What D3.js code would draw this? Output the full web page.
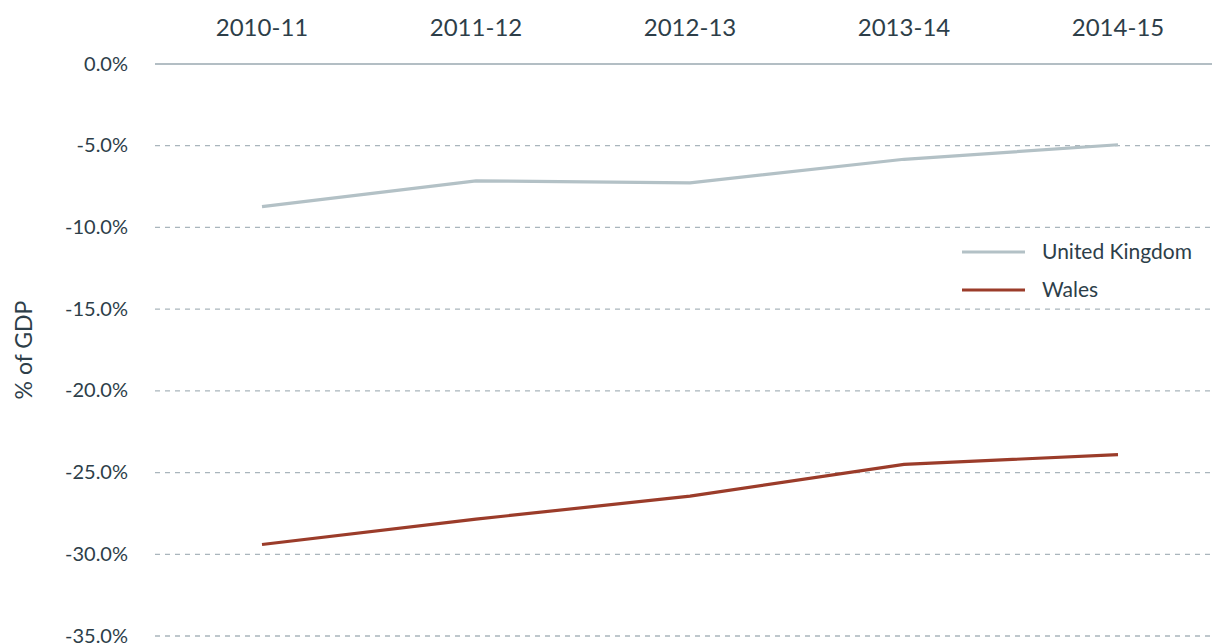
<!DOCTYPE html>
<html>
<head>
<meta charset="utf-8">
<script src="https://cdn.jsdelivr.net/npm/d3@7"></script>
<style>
  body { margin: 0; background: #fff; }
  svg text { font-family: Lato, "Open Sans", sans-serif; fill: #2d3e49; }
</style>
</head>
<body>
<div id="chart"></div>
<script>
// dados
const categorias = ['2010-11', '2011-12', '2012-13', '2013-14', '2014-15'];
const reinoUnido = [-8.73, -7.15, -7.27, -5.83, -4.94];
const pais = [-29.4, -27.85, -26.44, -24.5, -23.9];
const ticksY = [0, -5, -10, -15, -20, -25, -30, -35];
const series = [
  { nome: 'United Kingdom', valores: reinoUnido, cor: '#b3c1c6' },
  { nome: 'Wales', valores: pais, cor: '#9b3c2a' }
];

const W = 1212, H = 644;
const margin = { left: 155, right: -13, top: 64, bottom: 8 };

const svg = d3.select('#chart').append('svg')
  .attr('width', W).attr('height', H);

const x = d3.scaleBand()
  .domain(categorias)
  .range([margin.left, W - margin.right]);

const y = d3.scaleLinear()
  .domain([0, -35])
  .range([margin.top, H - margin.bottom]);

// grelha
svg.append('g').selectAll('line')
  .data(ticksY)
  .join('line')
  .attr('x1', margin.left).attr('x2', W)
  .attr('y1', d => y(d)).attr('y2', d => y(d))
  .attr('stroke', d => d === 0 ? '#9aa8b0' : '#a9b5bc')
  .attr('stroke-width', 1.3)
  .attr('stroke-dasharray', d => d === 0 ? null : '5,5');

// eixo Y (rótulos) - hífen normal em vez do sinal de menos
const fmt = d => d3.format('.1f')(d).replace('\u2212', '-') + '%';
const eixoY = svg.append('g')
  .attr('transform', `translate(${margin.left - 27},0)`)
  .call(d3.axisLeft(y).tickValues(ticksY).tickSize(0).tickFormat(fmt));
eixoY.select('.domain').remove();
eixoY.selectAll('text')
  .attr('x', 0)
  .attr('dy', '0.3em')
  .style('font-size', '20px')
  .style('font-family', 'Lato, sans-serif')
  .attr('fill', '#2d3e49');

// eixo X no topo
const eixoX = svg.append('g')
  .attr('transform', 'translate(0,28)')
  .call(d3.axisTop(x).tickSize(0));
eixoX.select('.domain').remove();
eixoX.selectAll('text')
  .attr('y', 0)
  .attr('dy', '0.35em')
  .style('font-size', '24px')
  .style('font-family', 'Lato, sans-serif')
  .attr('fill', '#2d3e49');

// título do eixo Y
svg.append('text')
  .attr('transform', 'translate(24,350) rotate(-90)')
  .attr('text-anchor', 'middle')
  .attr('dy', '0.35em')
  .style('font-size', '23px')
  .text('% of GDP');

// linhas
const linha = d3.line()
  .x((d, i) => x(categorias[i]) + x.bandwidth() / 2)
  .y(d => y(d));

svg.append('g').selectAll('path')
  .data(series)
  .join('path')
  .attr('d', d => linha(d.valores))
  .attr('fill', 'none')
  .attr('stroke', d => d.cor)
  .attr('stroke-width', 3.2);

// legenda
const leg = svg.append('g').attr('transform', 'translate(962,252)');
const item = leg.selectAll('g')
  .data(series)
  .join('g')
  .attr('transform', (d, i) => `translate(0,${i * 38})`);
item.append('line')
  .attr('x1', 0).attr('x2', 63)
  .attr('stroke', d => d.cor)
  .attr('stroke-width', 3.2);
item.append('text')
  .attr('x', 80)
  .attr('dy', '0.35em')
  .style('font-size', '21px')
  .text(d => d.nome);
</script>
</body>
</html>
